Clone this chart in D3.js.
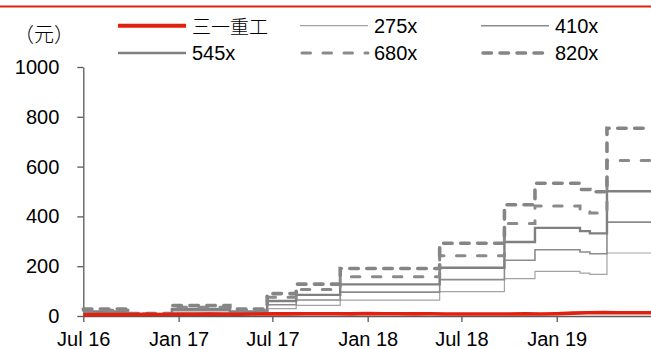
<!DOCTYPE html>
<html>
<head>
<meta charset="utf-8">
<script src="https://cdn.jsdelivr.net/npm/d3@7"></script>
<style>
  html, body { margin: 0; padding: 0; background: #fff; }
  svg { display: block; font-family: "Liberation Sans", Arial, sans-serif; }
</style>
</head>
<body>
<div id="chart"></div>
<script>
// step dates (trailing EPS changes) and band values
const bandDates = ["2016-07-01", "2016-09-25", "2016-12-19", "2017-04-10", "2017-06-21", "2017-08-16",
    "2017-11-09", "2018-05-20", "2018-09-22", "2018-11-20", "2019-02-15", "2019-03-06", "2019-04-08", "2019-07-02"];
const band275 = [9.4, 3.4, 14, 9.4, 30, 43, 64, 98, 150, 179, 172, 167, 253, 253];
const band410 = [14, 5, 21, 14, 45, 64, 96, 146, 224, 266, 257, 250, 377, 377];
const band545 = [18.6, 6.6, 28, 18.6, 60, 85, 127, 194, 297, 354, 341, 332, 501, 501];
const band680 = [23, 8.3, 35, 23, 75, 106, 158, 242, 371, 442, 425, 414, 625, 625];
const band820 = [28, 10, 42, 28, 90, 128, 191, 292, 447, 533, 508, 499, 754, 754];

// share price of 三一重工
const priceDates = ["2016-07-01", "2016-08-01", "2016-09-01", "2016-10-01", "2016-11-01", "2016-12-01",
    "2017-01-01", "2017-02-01", "2017-03-01", "2017-04-01", "2017-05-01", "2017-06-01",
    "2017-07-01", "2017-08-01", "2017-09-01", "2017-10-01", "2017-11-01", "2017-12-01",
    "2018-01-01", "2018-02-01", "2018-03-01", "2018-04-01", "2018-05-01", "2018-06-01",
    "2018-07-01", "2018-08-01", "2018-09-01", "2018-10-01", "2018-11-01", "2018-12-01",
    "2019-01-01", "2019-02-01", "2019-03-01", "2019-04-01", "2019-05-01", "2019-06-01", "2019-07-02"];
const price = [5.3, 5.5, 5.6, 6.0, 6.4, 6.0, 6.8, 7.3, 7.5, 7.2, 7.0, 7.8,
    8.5, 8.7, 9.0, 9.2, 9.3, 8.5, 9.8, 9.2, 8.8, 8.5, 8.9, 8.0,
    8.3, 7.8, 8.0, 7.9, 8.4, 8.2, 9.3, 11.5, 13.0, 14.2, 12.8, 13.3, 13.0];

const yTicks = [0, 200, 400, 600, 800, 1000];
const xTickDates = ["2016-07-01", "2017-01-01", "2017-07-01", "2018-01-01", "2018-07-01", "2019-01-01"];

const W = 651, H = 349;
const parse = d3.timeParse("%Y-%m-%d");

const svg = d3.select("#chart").append("svg")
    .attr("width", W)
    .attr("height", H);

// red rule across the top
svg.append("line")
    .attr("x1", 0).attr("x2", W)
    .attr("y1", 6.5).attr("y2", 6.5)
    .attr("stroke", "#e2200f")
    .attr("stroke-width", 2.2);

const x = d3.scaleTime()
    .domain([parse("2016-07-01"), parse("2019-07-02")])
    .range([83.3, 651]);

const y = d3.scaleLinear()
    .domain([0, 1000])
    .range([316, 67]);

// axes
const yAxis = svg.append("g")
    .attr("transform", "translate(83.3,0)")
    .call(d3.axisLeft(y).tickValues(yTicks).tickFormat(d3.format("d"))
        .tickSize(6).tickSizeOuter(0).tickPadding(18));

const xAxis = svg.append("g")
    .attr("transform", "translate(0,316)")
    .call(d3.axisBottom(x).tickValues(xTickDates.map(parse)).tickFormat(d3.timeFormat("%b %y"))
        .tickSize(6).tickSizeOuter(0).tickPadding(10));

[yAxis, xAxis].forEach(a => {
    a.select(".domain").attr("stroke", "#5a5a5a").attr("stroke-width", 1.3);
    a.selectAll(".tick line").attr("stroke", "#5a5a5a").attr("stroke-width", 1.3);
    a.selectAll(".tick text")
        .attr("fill", "#000")
        .style("font-size", "20px")
        .style("font-family", "'Liberation Sans', Arial, sans-serif");
});

// unit label
svg.append("text")
    .attr("x", 14)
    .attr("y", 33)
    .attr("dominant-baseline", "central")
    .style("font-family", "'Noto Sans CJK SC', sans-serif")
    .style("font-size", "20px")
    .style("font-weight", 300)
    .text("（元）");

// series definitions
const series = [
    {name: "275x", values: band275, color: "#a3a3a3", width: 1.2, dash: null, cap: "butt"},
    {name: "410x", values: band410, color: "#8c8c8c", width: 1.6, dash: null, cap: "butt"},
    {name: "545x", values: band545, color: "#808080", width: 2.4, dash: null, cap: "butt"},
    {name: "680x", values: band680, color: "#8a8a8a", width: 3, dash: "8.5,12.5", cap: "round"},
    {name: "820x", values: band820, color: "#858585", width: 3.6, dash: "8.5,8.5", cap: "round"}
];

const stepLine = d3.line()
    .x(d => x(d.date))
    .y(d => y(d.value))
    .curve(d3.curveStepAfter);

series.forEach(s => {
    const pts = bandDates.map((d, i) => ({date: parse(d), value: s.values[i]}));
    svg.append("path")
        .datum(pts)
        .attr("d", stepLine)
        .attr("fill", "none")
        .attr("stroke", s.color)
        .attr("stroke-width", s.width)
        .attr("stroke-dasharray", s.dash)
        .attr("stroke-linecap", s.cap);
});

// price line on top
const priceLine = d3.line()
    .x(d => x(d.date))
    .y(d => y(d.value));

svg.append("path")
    .datum(priceDates.map((d, i) => ({date: parse(d), value: price[i]})))
    .attr("d", priceLine)
    .attr("fill", "none")
    .attr("stroke", "#e2200f")
    .attr("stroke-width", 3.6);

// legend
const legendItems = [
    {name: "三一重工", color: "#e2200f", width: 4, dash: null, cap: "butt", cjk: true},
    series[0], series[1], series[2], series[3], series[4]
];
const colX = [118, 300, 481];
const rowY = [25.7, 53];

legendItems.forEach((s, i) => {
    const lx = colX[i % 3], ly = rowY[Math.floor(i / 3)];
    const g = svg.append("g");
    g.append("line")
        .attr("x1", lx + (s.cap === "round" ? 2 : 0)).attr("x2", lx + 68)
        .attr("y1", ly).attr("y2", ly)
        .attr("stroke", s.color)
        .attr("stroke-width", s.width)
        .attr("stroke-dasharray", s.dash)
        .attr("stroke-linecap", s.cap);
    g.append("text")
        .attr("x", lx + 74)
        .attr("y", ly)
        .attr("dominant-baseline", "central")
        .style("font-size", s.cjk ? "19px" : "20px")
        .style("font-family", s.cjk ? "'Noto Sans CJK SC', sans-serif" : "'Liberation Sans', Arial, sans-serif")
        .style("font-weight", s.cjk ? 300 : 400)
        .text(s.name);
});
</script>
</body>
</html>
